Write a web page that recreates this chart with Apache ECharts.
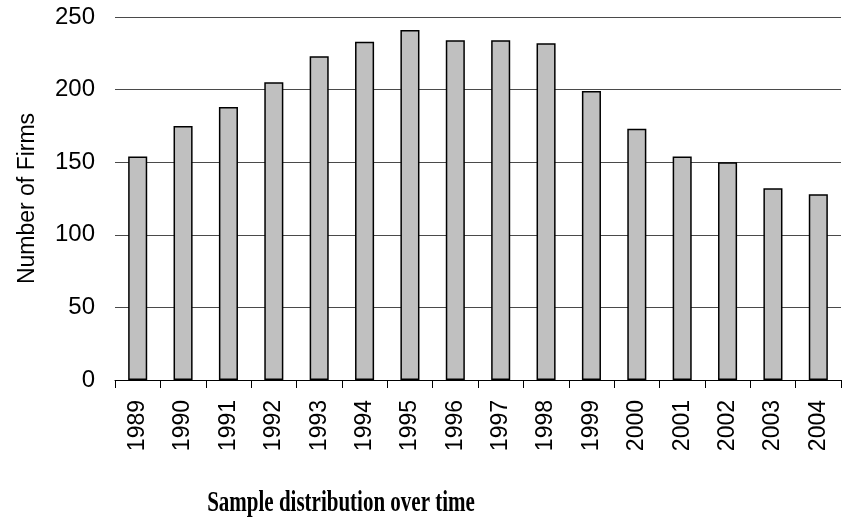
<!DOCTYPE html>
<html>
<head>
<meta charset="utf-8">
<script src="https://cdn.jsdelivr.net/npm/echarts@6/dist/echarts.min.js"></script>
<style>html,body{margin:0;padding:0;background:#fff}#c{width:846px;height:524px}</style>
</head>
<body>
<div id="c"></div>
<script>
const years = ['1989','1990','1991','1992','1993','1994','1995','1996','1997','1998','1999','2000','2001','2002','2003','2004'];
const firms = [154, 175, 188, 205, 223, 233, 241, 234, 234, 232, 199, 173, 154, 150, 132, 128];
const yTicks = [0, 50, 100, 150, 200, 250];
const chartTitle = 'Sample distribution over time';
const yName = 'Number of Firms';

const chart = echarts.init(document.getElementById('c'), null, {renderer: 'canvas'});
chart.setOption({
  animation: false,
  backgroundColor: '#fff',
  grid: {left: 115, right: 5, top: 17, bottom: 144, containLabel: false},
  xAxis: {
    type: 'category',
    data: years,
    boundaryGap: true,
    axisLine: {lineStyle: {color: '#000', width: 1}},
    axisTick: {show: true, alignWithLabel: false, length: 8, lineStyle: {color: '#000', width: 1}},
    axisLabel: {rotate: 90, margin: 20, color: '#000', fontSize: 23, fontFamily: 'Liberation Sans, Arial, sans-serif', interval: 0},
    splitLine: {show: false}
  },
  yAxis: {
    type: 'value',
    min: yTicks[0],
    max: yTicks[yTicks.length - 1],
    interval: 50,
    name: yName,
    nameLocation: 'middle',
    nameGap: 76,
    nameRotate: 90,
    nameTextStyle: {color: '#000', fontSize: 23, fontFamily: 'Liberation Sans, Arial, sans-serif'},
    axisLine: {show: false},
    axisTick: {show: false},
    axisLabel: {margin: 20, color: '#000', fontSize: 24, fontFamily: 'Liberation Sans, Arial, sans-serif'},
    splitLine: {show: true, lineStyle: {color: '#4a4a4a', width: 1}}
  },
  series: [{
    type: 'bar',
    data: firms,
    barWidth: '42%',
    itemStyle: {color: '#c0c0c0', borderColor: '#000', borderWidth: 1.5}
  }],
  graphic: [{
    type: 'text',
    x: 341,
    y: 518,
    scaleX: 0.7,
    style: {
      text: chartTitle,
      font: 'bold 30px "Liberation Serif", "Times New Roman", serif',
      fill: '#000',
      textAlign: 'center',
      textVerticalAlign: 'bottom'
    }
  }]
});
</script>
</body>
</html>
